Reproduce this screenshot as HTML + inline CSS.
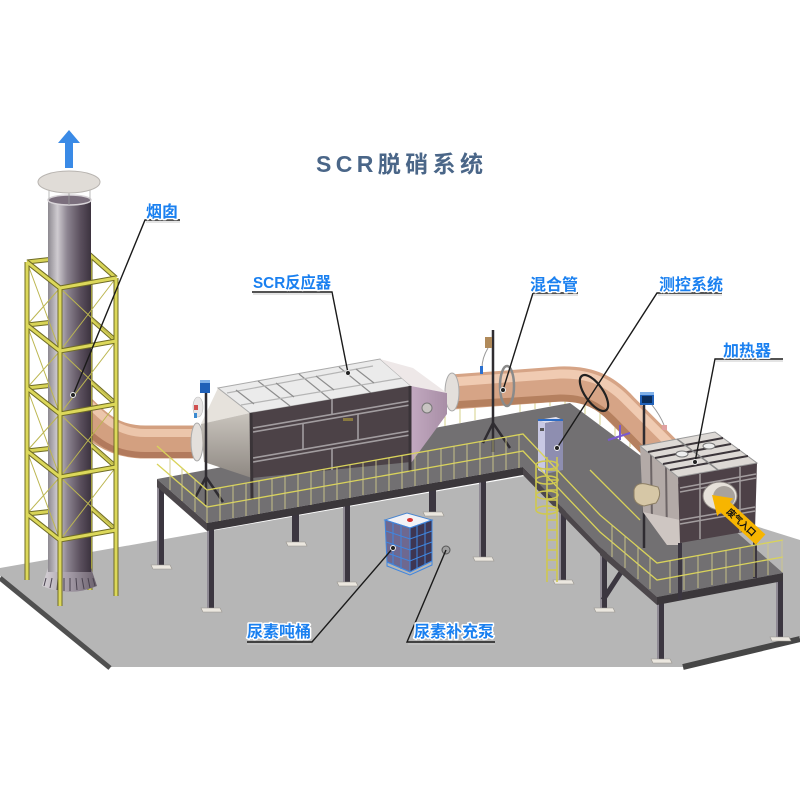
<!DOCTYPE html>
<html><head><meta charset="utf-8"><style>
html,body{margin:0;padding:0;background:#fff;}
svg{display:block;}
.lb{font-family:"Liberation Sans","Noto Sans CJK SC",sans-serif;font-weight:bold;font-size:16px;fill:#1a80f0;stroke:#fff;stroke-width:3;paint-order:stroke;stroke-linejoin:round;}
</style></head><body>
<svg width="800" height="800" viewBox="0 0 800 800" xmlns="http://www.w3.org/2000/svg">
<defs>
<linearGradient id="stk" x1="0" x2="1" y1="0" y2="0">
<stop offset="0" stop-color="#8d8990"/><stop offset="0.22" stop-color="#cfcbd0"/><stop offset="0.45" stop-color="#8c8490"/><stop offset="0.75" stop-color="#5b505e"/><stop offset="1" stop-color="#3c333f"/>
</linearGradient>
<linearGradient id="base" x1="0" x2="1"><stop offset="0" stop-color="#d8d4d8"/><stop offset="0.5" stop-color="#a39aa6"/><stop offset="1" stop-color="#6a606c"/></linearGradient>
<linearGradient id="hood" x1="0" x2="0" y1="0" y2="1"><stop offset="0" stop-color="#c9c4bd"/><stop offset="1" stop-color="#8e8882"/></linearGradient>
<linearGradient id="lav" x1="0" x2="1"><stop offset="0" stop-color="#c2a9c0"/><stop offset="1" stop-color="#a88ea6"/></linearGradient>
<path id="sfB" d="M27,262 L90,255 L116,278 M27,325 L90,318 L116,341 M27,388 L90,381 L116,404 M27,451 L90,444 L116,467 M27,514 L90,507 L116,530 M90,255 L90,590"/>
<path id="sfF" d="M27,262 L60,288 L116,278 M27,325 L60,351 L116,341 M27,388 L60,414 L116,404 M27,451 L60,477 L116,467 M27,514 L60,540 L116,530 M27,262 L27,580 M60,288 L60,606 M116,278 L116,596"/>
</defs>

<!-- floor -->
<polygon points="0,568 570,468 800,540 800,637 683,667 110,667 0,576" fill="#b6b6b6"/>
<line x1="0" y1="578" x2="110" y2="668" stroke="#505050" stroke-width="5"/>
<line x1="683" y1="667" x2="800" y2="639" stroke="#464646" stroke-width="6"/>

<!-- legs -->
<g fill="#3b3640">
<rect x="157" y="485" width="7" height="80"/>
<rect x="207" y="528" width="7" height="80"/>
<rect x="292" y="512" width="7" height="31"/>
<rect x="343" y="502" width="7" height="80"/>
<rect x="429" y="488" width="7" height="25"/>
<rect x="479" y="476" width="7" height="81"/>
<rect x="559" y="470" width="7" height="110"/>
<rect x="600" y="540" width="7" height="70"/>
<rect x="657" y="598" width="7" height="62"/>
<rect x="776" y="575" width="7" height="63"/>
</g>
<g fill="#8f8a94">
<rect x="157" y="485" width="2" height="80"/><rect x="207" y="528" width="2" height="80"/><rect x="343" y="502" width="2" height="80"/><rect x="479" y="476" width="2" height="81"/><rect x="559" y="470" width="2" height="110"/><rect x="600" y="540" width="2" height="70"/><rect x="657" y="598" width="2" height="62"/><rect x="776" y="575" width="2" height="63"/>
</g>
<g fill="#ebe7df" stroke="#9a968f" stroke-width="0.6">
<polygon points="151,565 170,565 172,569 153,569"/>
<polygon points="201,608 220,608 222,612 203,612"/>
<polygon points="286,542 305,542 307,546 288,546"/>
<polygon points="337,582 356,582 358,586 339,586"/>
<polygon points="423,512 442,512 444,516 425,516"/>
<polygon points="473,557 492,557 494,561 475,561"/>
<polygon points="553,580 572,580 574,584 555,584"/>
<polygon points="594,608 613,608 615,612 596,612"/>
<polygon points="651,659 670,659 672,663 653,663"/>
<polygon points="770,637 789,637 791,641 772,641"/>
</g>
<line x1="603" y1="600" x2="625" y2="566" stroke="#3b3640" stroke-width="5"/>

<!-- deck top -->
<polygon points="157,479 570,403 700,500 783,573 657,597 600,547 523,467 207,523" fill="#727072"/>
<polygon points="207,523 523,467 523,475 207,531" fill="#3b373b"/>
<polygon points="157,479 207,523 207,531 157,487" fill="#4c474b"/>
<polygon points="523,467 600,547 600,554 523,475" fill="#4c474b"/>
<polygon points="600,547 657,597 657,605 600,555" fill="#4c474b"/>
<polygon points="657,597 783,573 783,581 657,605" fill="#3b373b"/>

<!-- back railing -->
<g stroke="#d6d18a" stroke-width="1" fill="none">
<path d="M417,400 L570,373 L650,432"/>
<path d="M430,398 V428 M445,395 V426 M460,393 V423 M475,390 V420 M520,382 V412 M535,380 V409 M550,377 V406 M565,374 V404 M585,385 V414 M600,396 V425 M615,407 V436 M630,418 V447"/>
</g>

<!-- pipe 1 (stack to reactor) -->
<path d="M70,400 C95,425 110,442 145,442 L200,442" stroke="#d3a080" stroke-width="33" fill="none"/>
<path d="M80,394 C102,417 117,433 145,433 L200,433" stroke="#ecc6ab" stroke-width="8" fill="none"/>
<path d="M72,414 C94,442 114,455 145,455 L200,455" stroke="#b27a5d" stroke-width="6" fill="none"/>

<!-- pipe 2 -->
<path d="M452,392 L560,384 C590,383 606,392 622,410 L672,460" stroke="#d6a486" stroke-width="35" fill="none"/>
<path d="M452,382 L560,374 C592,373 611,384 628,402 L678,452" stroke="#f0cbb2" stroke-width="9" fill="none"/>
<path d="M452,405 L560,398 C585,398 598,405 613,420 L660,468" stroke="#b5805f" stroke-width="7" fill="none"/>
<ellipse cx="507" cy="386" rx="7" ry="20" fill="none" stroke="#8a8a8a" stroke-width="2.5"/>
<ellipse cx="594" cy="393" rx="9" ry="21" transform="rotate(-35 594 393)" fill="none" stroke="#222" stroke-width="2.2"/>
<ellipse cx="452" cy="392" rx="7" ry="19" fill="#e3dfdb" stroke="#aaa" stroke-width="1"/>
<ellipse cx="197" cy="442" rx="6" ry="19" fill="#e3dfdb" stroke="#aaa" stroke-width="1"/>

<!-- reactor -->
<polygon points="201,424 218,388 250,413" fill="#e6e2dc"/>
<polygon points="201,424 250,413 252,478 204,462" fill="url(#hood)"/>
<polygon points="218,388 380,359 411,386 250,413" fill="#ebebeb" stroke="#aaa" stroke-width="1"/>
<g stroke="#8d8d8d" stroke-width="1.2">
<line x1="258" y1="381" x2="290" y2="406"/><line x1="299" y1="374" x2="331" y2="400"/><line x1="339" y1="367" x2="371" y2="393"/>
<line x1="227" y1="393" x2="373" y2="366" stroke="#b5b5b5"/>
<line x1="241" y1="405" x2="403" y2="378" stroke="#b5b5b5"/>
<line x1="236" y1="390" x2="254" y2="404"/><line x1="276" y1="383" x2="294" y2="397"/><line x1="316" y1="376" x2="334" y2="390"/><line x1="356" y1="369" x2="374" y2="383"/>
</g>
<polygon points="380,359 411,386 447,393 413,368" fill="#eee8e8"/>
<polygon points="411,386 447,393 447,414 411,463" fill="url(#lav)"/>
<polygon points="250,413 411,386 411,462 252,478" fill="#4c4247"/>
<g stroke="#a29da0" stroke-width="1.6">
<line x1="253" y1="428" x2="410" y2="401"/><line x1="253" y1="432" x2="410" y2="405"/>
<line x1="253" y1="458" x2="410" y2="431"/><line x1="253" y1="462" x2="410" y2="435"/>
<line x1="332" y1="399" x2="332" y2="414"/><line x1="303" y1="423" x2="303" y2="449"/><line x1="358" y1="414" x2="358" y2="440"/><line x1="332" y1="448" x2="332" y2="470"/>
</g>
<line x1="251" y1="413" x2="252" y2="500" stroke="#3a3438" stroke-width="3"/>
<line x1="410" y1="386" x2="410" y2="472" stroke="#3a3438" stroke-width="3"/>
<ellipse cx="427" cy="408" rx="5" ry="5" fill="#c8c4c2" stroke="#777" stroke-width="1"/>
<rect x="343" y="418" width="10" height="3" fill="#8a7a40"/>

<!-- pole 1 -->
<line x1="206" y1="390" x2="206" y2="505" stroke="#2f2c31" stroke-width="2.5"/>
<path d="M206,477 L195,498 M206,477 L223,502" stroke="#2f2c31" stroke-width="2.5"/>
<rect x="200" y="380" width="10" height="13" fill="#1f60b8"/><rect x="200" y="380" width="10" height="3" fill="#7fb0e8"/>
<ellipse cx="198" cy="407" rx="5" ry="10" fill="#e8e6e6" stroke="#bbb" stroke-width="0.6"/>
<rect x="194" y="405" width="4" height="5" fill="#d05050"/><rect x="194" y="413" width="3" height="5" fill="#3a8ad0"/>

<!-- pole 2 -->
<line x1="493" y1="330" x2="493" y2="452" stroke="#2f2c31" stroke-width="2.5"/>
<path d="M493,423 L483,443 M493,423 L510,448" stroke="#2f2c31" stroke-width="2.5"/>
<rect x="485" y="337" width="7" height="11" fill="#b08a5a"/>
<path d="M488,348 Q482,358 482,368" stroke="#999" stroke-width="1" fill="none"/>
<rect x="480" y="366" width="3" height="8" fill="#2a70d0"/>

<!-- cabinet -->
<polygon points="538,420 556,417 563,420 545,423" fill="#e0e0f0"/>
<polygon points="545,423 563,420 563,470 545,474" fill="#8e8eb0"/>
<polygon points="538,420 545,423 545,474 538,470" fill="#c9c9e4"/>
<rect x="538" y="419" width="25" height="2" fill="#2d6bc4"/>
<rect x="540" y="428" width="4" height="3" fill="#555"/>

<!-- pole 3 -->
<line x1="644" y1="400" x2="644" y2="548" stroke="#2f2c31" stroke-width="2.5"/>
<rect x="640" y="392" width="14" height="13" fill="#1f60b8"/><rect x="640" y="392" width="14" height="3" fill="#7fb0e8"/><rect x="642" y="396" width="10" height="7" fill="#0b2d5a"/>
<path d="M652,405 Q660,415 664,425" stroke="#999" stroke-width="1" fill="none"/>
<rect x="662" y="425" width="5" height="5" fill="#e0a0a0"/>
<path d="M608,440 L630,433 M620,425 V440" stroke="#7a5ad0" stroke-width="2"/>

<!-- heater -->
<polygon points="640,446 678,477 680,545 667,545 643,512" fill="#b3aaa7"/>
<line x1="651" y1="455" x2="652" y2="522" stroke="#6d6566" stroke-width="2"/>
<line x1="666" y1="467" x2="667" y2="538" stroke="#6d6566" stroke-width="2"/>
<polygon points="643,512 667,545 680,545 680,520" fill="#cec6c2"/>
<polygon points="678,477 757,463 755,530 680,543" fill="#4d4147"/>
<g stroke="#a39d9f" stroke-width="1.5">
<line x1="680" y1="488" x2="756" y2="474"/><line x1="680" y1="492" x2="756" y2="478"/>
<line x1="680" y1="520" x2="755" y2="507"/><line x1="680" y1="524" x2="755" y2="511"/>
<line x1="700" y1="474" x2="700" y2="539"/><line x1="740" y1="467" x2="740" y2="532"/>
</g>
<polygon points="640,446 715,432 757,463 678,477" fill="#ddd9d5" stroke="#999" stroke-width="1"/>
<g stroke="#3b353a" stroke-width="2">
<line x1="648" y1="452" x2="723" y2="438"/><line x1="655" y1="458" x2="731" y2="444"/><line x1="663" y1="464" x2="740" y2="450"/><line x1="670" y1="470" x2="748" y2="456"/>
</g>
<line x1="677" y1="439" x2="718" y2="470" stroke="#888" stroke-width="1.5"/>
<ellipse cx="682" cy="454" rx="6" ry="3" fill="#eee" stroke="#777" stroke-width="1"/>
<ellipse cx="709" cy="446" rx="6" ry="3" fill="#eee" stroke="#777" stroke-width="1"/>
<ellipse cx="720" cy="496" rx="17" ry="14" fill="#e6e1da" stroke="#8a8480" stroke-width="1"/>
<ellipse cx="724" cy="497" rx="11" ry="11" fill="#a8a29c"/>
<line x1="680" y1="543" x2="680" y2="600" stroke="#3b3640" stroke-width="4"/>
<line x1="755" y1="530" x2="755" y2="578" stroke="#3b3640" stroke-width="4"/>
<path d="M634,490 Q636,482 646,484 L658,487 Q662,495 656,503 L644,506 Q634,504 634,496 Z" fill="#d6c7a6" stroke="#8d7f64" stroke-width="1"/>
<!-- yellow arrow -->
<g transform="translate(712,495) rotate(42.5)">
<polygon points="0,0 18,-12 18,-7 66,-7 66,7 18,7 18,12" fill="#f7b500"/>
<text x="22" y="3.5" font-family="Liberation Sans,'Noto Sans CJK SC',sans-serif" font-size="9" font-weight="bold" fill="#111">废气入口</text>
</g>

<!-- deck railings -->
<g stroke="#d9d35a" stroke-width="1.3" fill="none">
<path d="M157,446 L207,490 L523,434 L600,515 L657,563 L783,540"/>
<path d="M157,464 L207,507 L523,451 L600,532 L657,580 L783,557"/>
<path d="M590,470 L640,520"/>
</g>
<g stroke="#cfc98a" stroke-width="0.9">
<path d="M170,457 V490 M182,468 V501 M195,479 V512 M207,490 V523 M220,488 V521 M233,485 V518 M246,483 V516 M259,481 V514 M272,478 V511 M285,476 V509 M298,474 V507 M311,472 V505 M324,469 V502 M337,467 V500 M350,465 V498 M363,462 V495 M376,460 V493 M389,458 V491 M402,456 V489 M415,453 V486 M428,451 V484 M441,449 V482 M454,446 V479 M467,444 V477 M480,442 V475 M493,439 V472 M506,437 V470 M519,435 V468"/>
<path d="M612,525 V557 M625,536 V568 M638,547 V579 M650,557 V589 M670,561 V593 M684,558 V590 M698,556 V588 M712,553 V585 M726,551 V583 M740,548 V580 M754,545 V577 M768,543 V575 M782,540 V572"/>
</g>

<!-- ladder -->
<g stroke="#cfc850" stroke-width="1.6" fill="none">
<line x1="547" y1="457" x2="547" y2="582"/><line x1="557" y1="457" x2="557" y2="582"/>
<path d="M547,470 H557 M547,480 H557 M547,490 H557 M547,500 H557 M547,510 H557 M547,520 H557 M547,530 H557 M547,540 H557 M547,550 H557 M547,560 H557 M547,570 H557"/>
<ellipse cx="547" cy="465" rx="11" ry="4"/><ellipse cx="547" cy="480" rx="11" ry="4"/><ellipse cx="547" cy="495" rx="11" ry="4"/><ellipse cx="547" cy="510" rx="11" ry="4"/>
<line x1="536" y1="465" x2="536" y2="510"/>
</g>

<!-- tote -->
<polygon points="385,520 407,513 432,520 410,528" fill="#f2f2f6" stroke="#4a86d0" stroke-width="1"/>
<polygon points="385,520 410,528 410,572 387,562" fill="#6e6890"/>
<polygon points="410,528 432,520 432,561 410,572" fill="#3e3652"/>
<g stroke="#3f86e0" stroke-width="1" fill="none">
<polygon points="385,520 410,528 410,572 387,562"/><polygon points="410,528 432,520 432,561 410,572"/>
<path d="M386,531 L410,539 L432,531 M386,542 L410,550 L432,542 M387,553 L410,561 L432,552"/>
<path d="M393,523 V565 M401,526 V569 M417,526 V569 M425,523 V565"/>
<path d="M387,562 L410,572 L432,561 L432,565 L410,575 L387,566 Z"/>
</g>
<ellipse cx="410" cy="520" rx="3" ry="2" fill="#d83030"/>
<!-- pump -->
<circle cx="446" cy="550" r="4" fill="#a0a0a0" stroke="#555" stroke-width="1"/>

<!-- scaffold back -->
<use href="#sfB" stroke="#6f6b26" stroke-width="5" fill="none"/>
<use href="#sfB" stroke="#d8d456" stroke-width="3" fill="none"/>

<!-- stack -->
<path d="M48,568 L42,586 Q69,598 97,586 L91,568 Z" fill="url(#base)"/>
<g stroke="#4a4350" stroke-width="1">
<path d="M46,578 L44,586 M52,578 L50,588 M58,578 L57,590 M64,578 L64,591 M70,578 L70,591 M76,578 L77,590 M82,578 L84,589 M88,578 L90,588 M93,578 L95,586"/>
</g>
<rect x="48" y="200" width="43" height="372" fill="url(#stk)"/>
<ellipse cx="69.5" cy="200" rx="21.5" ry="5" fill="#7b6f7d" stroke="#d8d4d8" stroke-width="1.5"/>
<line x1="49" y1="186" x2="49" y2="200" stroke="#aaa" stroke-width="0.8"/>
<line x1="90" y1="186" x2="90" y2="200" stroke="#aaa" stroke-width="0.8"/>
<line x1="69" y1="186" x2="69" y2="205" stroke="#999" stroke-width="0.8"/>
<ellipse cx="69" cy="182" rx="31" ry="11" fill="#e0dcd7" stroke="#b8b4b0" stroke-width="1"/>
<polygon points="69,130 80,143 73,143 73,168 65,168 65,143 58,143" fill="#3a8ae6"/>

<!-- scaffold front -->
<g stroke="#bcb650" stroke-width="1">
<path d="M27,262 L60,351 M60,288 L27,325 M27,325 L60,414 M60,351 L27,388 M27,388 L60,477 M60,414 L27,451 M27,451 L60,540 M60,477 L27,514"/>
<path d="M60,288 L116,341 M116,278 L60,351 M60,351 L116,404 M116,341 L60,414 M60,414 L116,467 M116,404 L60,477 M60,477 L116,530 M116,467 L60,540"/>
</g>
<use href="#sfF" stroke="#6f6b26" stroke-width="5" fill="none"/>
<use href="#sfF" stroke="#dcd85a" stroke-width="3" fill="none"/>

<!-- title -->
<text x="316" y="172" font-family="Liberation Sans,'Noto Sans CJK SC',sans-serif" font-size="23" font-weight="bold" fill="#4a6688" letter-spacing="3" textLength="170" lengthAdjust="spacing">SCR脱硝系统</text>

<!-- leaders -->
<g stroke="#1a1a1a" stroke-width="1.4" fill="none">
<path d="M180,220 H145 L73,395"/>
<path d="M252,292 H332 L348,373"/>
<path d="M578,293 H533 L503,390"/>
<path d="M722,293 H657 L557,448"/>
<path d="M783,359 H715 L695,462"/>
<path d="M247,642 H312 L393,548"/>
<path d="M495,642 H407 L446,550"/>
</g>
<g stroke="#c8c8c8" stroke-width="1" fill="none">
<path d="M146,222 H180 M253,294 H332 M533,295 H578 M658,295 H722 M716,361 H783 M247,644 H311 M408,644 H495"/>
</g>
<g fill="#222" stroke="#eee" stroke-width="1">
<circle cx="73" cy="395" r="2.5"/><circle cx="348" cy="373" r="2.5"/><circle cx="503" cy="390" r="2.5"/><circle cx="557" cy="448" r="2.5"/><circle cx="695" cy="462" r="2.5"/><circle cx="393" cy="548" r="2.5"/>
</g>

<!-- labels -->
<text class="lb" x="146" y="217">烟囱</text>
<text class="lb" x="253" y="288" textLength="78" lengthAdjust="spacingAndGlyphs">SCR反应器</text>
<text class="lb" x="530" y="290">混合管</text>
<text class="lb" x="659" y="290">测控系统</text>
<text class="lb" x="723" y="356">加热器</text>
<text class="lb" x="247" y="637">尿素吨桶</text>
<text class="lb" x="414" y="637">尿素补充泵</text>
</svg>
</body></html>
